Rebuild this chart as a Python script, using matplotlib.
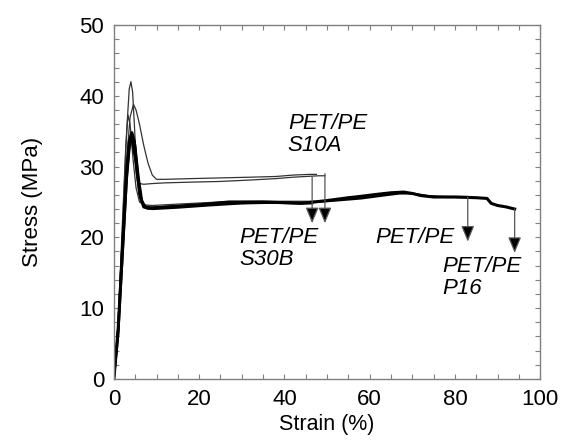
import matplotlib
matplotlib.use("Agg")
import matplotlib.pyplot as plt
from matplotlib.ticker import MultipleLocator

plt.rcParams["font.family"] = ["Liberation Sans", "DejaVu Sans"]

# thin curves (organoclay composites, S10A)
s10a_1_x = [0, 1, 2, 3, 3.6, 4.0, 4.4, 4.8, 5.2, 5.6, 6.0, 7, 9, 12, 18, 25, 32, 38, 42, 45, 48, 49.5]
s10a_1_y = [0, 8, 21, 35, 41, 42, 40.5, 36, 31, 28.5, 27.6, 27.5, 27.6, 27.7, 27.8, 27.9, 28.1, 28.3, 28.5, 28.6, 28.7, 28.7]
s10a_2_x = [0, 1, 2, 3, 3.8, 4.6, 5.2, 6, 7, 8, 9, 10, 12, 18, 25, 32, 38, 42, 46, 47.5]
s10a_2_y = [0, 7, 19, 31, 37, 38.8, 38, 36, 33, 30.5, 28.8, 28.2, 28.2, 28.3, 28.4, 28.5, 28.6, 28.8, 28.9, 28.9]

# thin curve with 37 MPa peak
thin_x = [0, 1, 2, 2.8, 3.3, 3.8, 4.5, 5.2, 6, 7, 9, 15, 25, 35, 45, 47]
thin_y = [0, 8, 22, 33, 37.3, 36, 31, 27, 25, 24.6, 24.5, 24.7, 25.0, 25.1, 25.1, 25.1]

# thick curves
thick_x = [0, 1, 2, 3, 3.6, 4.2, 4.8, 5.5, 6.3, 7, 8, 10, 15, 20, 27, 35, 44, 50, 55, 58, 62,
           65, 68, 70, 72, 75, 80, 85, 87.5, 88.5, 90, 92, 94]
thick_y = [0, 7, 18, 29, 33.5, 34.8, 33.5, 29, 25.5, 24.3, 24.1, 24.2, 24.4, 24.6, 25.0, 25.0, 24.8,
           25.2, 25.6, 25.8, 26.1, 26.3, 26.4, 26.2, 25.9, 25.7, 25.7, 25.6, 25.5, 24.8, 24.5, 24.3, 24.0]
s30b_x = [0, 1, 2, 3, 3.8, 4.4, 5, 5.8, 6.6, 7.5, 9, 15, 22, 30, 38, 44, 46.5]
s30b_y = [0, 6, 17, 28, 33.5, 34.5, 33, 28.5, 25.2, 24.2, 24.0, 24.2, 24.5, 24.8, 24.9, 24.8, 24.8]
pe_x = [0, 1, 2, 3, 4, 5, 6, 7, 9, 15, 25, 35, 45, 52, 58, 63, 67, 70, 74, 78, 83]
pe_y = [0, 7, 19, 30, 34.5, 31, 26, 24.4, 24.2, 24.4, 24.8, 24.9, 24.9, 25.2, 25.5, 25.9, 26.2, 26.2, 25.8, 25.7, 25.7]

# arrows marking break points
arrow_x = [46.5, 49.5, 83.0, 94.0]
arrow_y0 = [28.5, 29.0, 25.7, 24.0]
arrow_y1 = [22.0, 22.0, 19.4, 17.8]

# labels
label_text = ["PET/PE\nS10A", "PET/PE\nS30B", "PET/PE", "PET/PE\nP16"]
label_x = [40.8, 29.5, 61.2, 77.0]
label_y = [37.6, 21.5, 21.5, 17.4]

fig = plt.figure(figsize=(5.61, 4.40), dpi=100)
ax = fig.add_axes([0.203, 0.139, 0.760, 0.804])

ax.plot(s10a_1_x, s10a_1_y, color="#333333", lw=0.9)
ax.plot(s10a_2_x, s10a_2_y, color="#333333", lw=0.9)
ax.plot(thin_x, thin_y, color="#333333", lw=0.9)
ax.plot(pe_x, pe_y, color="black", lw=1.6)
ax.plot(s30b_x, s30b_y, color="black", lw=1.6)
ax.plot(thick_x, thick_y, color="black", lw=2.2)

for x, y0, y1 in zip(arrow_x, arrow_y0, arrow_y1):
    ax.annotate("", xy=(x, y1), xytext=(x, y0),
                arrowprops=dict(arrowstyle="-|>,head_length=0.6,head_width=0.25",
                                color="#555555", lw=0.9,
                                mutation_scale=16, shrinkA=0, shrinkB=0,
                                fc="black", ec="#555555"))

for txt, x, y in zip(label_text, label_x, label_y):
    ax.text(x, y, txt, fontsize=16, style="italic", ha="left", va="top",
            linespacing=1.1)

ax.set_xlim(0, 100)
ax.set_ylim(0, 50)
ax.xaxis.set_major_locator(MultipleLocator(20))
ax.xaxis.set_minor_locator(MultipleLocator(5))
ax.yaxis.set_major_locator(MultipleLocator(10))
ax.yaxis.set_minor_locator(MultipleLocator(2))
ax.tick_params(which="both", direction="in", top=True, right=True, length=3.5,
               width=0.8, color="#808080", labelsize=16, pad=7)
for sp in ax.spines.values():
    sp.set_color("#808080")
    sp.set_linewidth(1.0)

ax.set_xlabel("Strain (%)", fontsize=15.5, labelpad=3)
ax.set_ylabel("Stress (MPa)", fontsize=16, labelpad=26)

fig.savefig("out.png", dpi=100)
